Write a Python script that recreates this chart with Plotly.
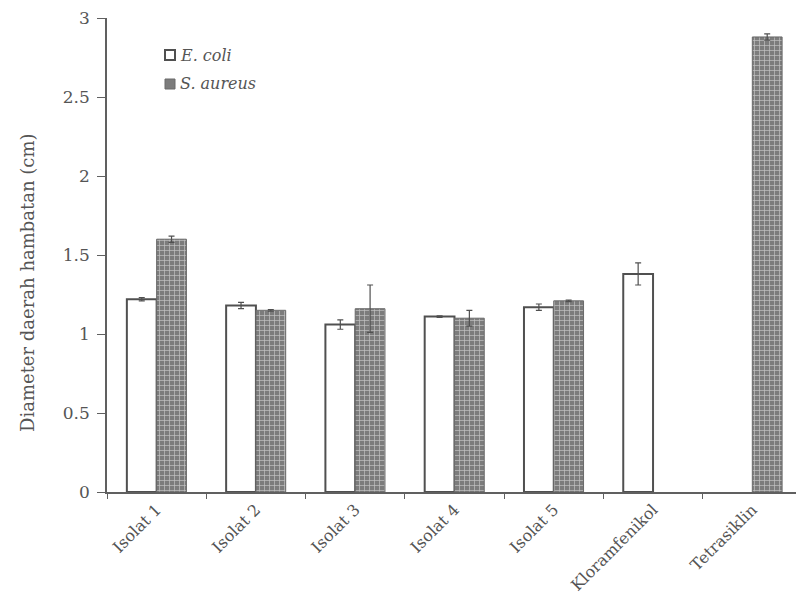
import plotly.graph_objects as go

# Inhibition zone diameters (cm), mean and error per treatment
categories = ["Isolat 1", "Isolat 2", "Isolat 3", "Isolat 4", "Isolat 5",
              "Kloramfenikol", "Tetrasiklin"]
ecoli = [1.22, 1.18, 1.06, 1.11, 1.17, 1.38, None]
ecoli_err = [0.01, 0.02, 0.03, 0.005, 0.02, 0.07, 0]
saureus = [1.60, 1.15, 1.16, 1.10, 1.21, None, 2.88]
saureus_err = [0.02, 0.005, 0.15, 0.05, 0.005, 0, 0.02]
y_ticks = [0, 0.5, 1, 1.5, 2, 2.5, 3]
series_names = ["E. coli", "S. aureus"]

serif = "DejaVu Serif, Liberation Serif, serif"
ink = "#555555"

W, H = 796, 603
ML, MR, MT, MB = 107, 0, 18, 111
PW, PH = W - ML - MR, H - MT - MB


def px_x(px):
    return (px - ML) / PW


def px_y(py):
    return (H - MB - py) / PH


ecoli_marker = dict(color="white", line=dict(color="#505050", width=2))
saureus_marker = dict(color="#7c7c7c", line=dict(color="#6a6a6a", width=1),
                      pattern=dict(shape="+", fillmode="replace",
                                   bgcolor="#7c7c7c", fgcolor="#c4c4c4",
                                   size=5, solidity=0.25))

fig = go.Figure()
fig.add_trace(go.Bar(
    name=series_names[0], x=categories, y=ecoli, marker=ecoli_marker,
    error_y=dict(type="data", array=ecoli_err, visible=True,
                 color="#505050", thickness=1.2, width=3),
))
fig.add_trace(go.Bar(
    name=series_names[1], x=categories, y=saureus, marker=saureus_marker,
    error_y=dict(type="data", array=saureus_err, visible=True,
                 color="#505050", thickness=1.2, width=3),
))

# Compact legend: small swatch with italic species name right beside it
legend_rows = [(55, "white", "#505050", 2), (84, "#7c7c7c", "#6a6a6a", 1)]
for name, (cy, fill, edge, lw) in zip(series_names, legend_rows):
    fig.add_shape(type="rect", xref="paper", yref="paper",
                  x0=px_x(165), x1=px_x(175), y0=px_y(cy + 5), y1=px_y(cy - 5),
                  fillcolor=fill, line=dict(color=edge, width=lw))
    fig.add_annotation(xref="paper", yref="paper", x=px_x(178), y=px_y(cy),
                       xanchor="left", yanchor="middle", showarrow=False,
                       text=f"<i>{name}</i>",
                       font=dict(family=serif, size=16, color=ink))

# Y-axis title
fig.add_annotation(xref="paper", yref="paper", x=px_x(27), y=px_y(283),
                   xanchor="center", yanchor="middle", showarrow=False,
                   textangle=-90, text="Diameter daerah hambatan (cm)",
                   font=dict(family=serif, size=18, color=ink))

fig.update_layout(
    width=W, height=H, autosize=False,
    margin=dict(l=ML, r=MR, t=MT, b=MB),
    paper_bgcolor="white", plot_bgcolor="white",
    barmode="group", bargap=0.4, bargroupgap=0,
    font=dict(family=serif, color=ink, size=16),
    showlegend=False,
)
fig.update_xaxes(
    range=[-0.5, 6.44], showline=True, linecolor="#606060", linewidth=2,
    ticks="outside", tickson="boundaries", ticklen=5, tickcolor="#606060",
    tickangle=-45, tickfont=dict(size=16, color=ink), showgrid=False,
)
fig.update_yaxes(
    range=[0, 3], tickvals=y_ticks, ticktext=[f"{v:g}" for v in y_ticks],
    showline=True, linecolor="#606060", linewidth=1.5,
    ticks="outside", ticklen=8, tickcolor="#606060", showgrid=False,
    zeroline=False, tickfont=dict(size=17, color=ink), ticklabelstandoff=4,
)

fig.write_html("out.html")
